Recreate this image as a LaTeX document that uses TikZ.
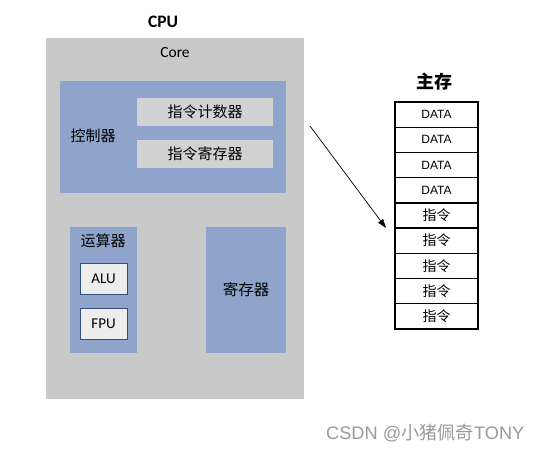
\documentclass[tikz,border=0pt]{standalone}
\usepackage{fontspec}
\setmainfont{Carlito}
\newfontfamily\cjk{Noto Sans CJK SC}
\newfontfamily\arial{Liberation Sans}
\usetikzlibrary{arrows.meta,calc}
\definecolor{cpugray}{HTML}{C9C9C9}
\definecolor{blk}{HTML}{8EA4CA}
\definecolor{bargray}{HTML}{D2D2D2}
\definecolor{unitfill}{HTML}{EDEDED}
\definecolor{unitdraw}{HTML}{2F4F7F}
\definecolor{wm}{HTML}{9A9A9A}
\tikzset{
  box/.style={draw=none,inner sep=0pt,outer sep=0pt,anchor=north west},
  bar/.style={box,fill=bargray,minimum width=136pt,minimum height=28pt,font=\fontsize{15}{15}\selectfont\cjk},
  unit/.style={box,fill=unitfill,draw=unitdraw,line width=0.8pt,minimum width=47pt,minimum height=31pt,font=\fontsize{15}{15}\selectfont},
  cell/.style={draw=black,line width=1.4pt,inner sep=0pt,outer sep=0pt,anchor=north west,minimum width=83pt,minimum height=25.2pt},
  lbl/.style={inner sep=0pt},
}
\begin{document}
\begin{tikzpicture}[x=1pt,y=-1pt]
\useasboundingbox[fill=white] (0,0) rectangle (541,452);
% CPU
\node[lbl,font=\fontsize{17.5}{17.5}\selectfont\bfseries] (cpulabel) at (163,22) {CPU};
\node[box,fill=cpugray,minimum width=258pt,minimum height=361pt] (cpu) at (46,38) {};
\node[lbl,font=\fontsize{15.5}{15.5}\selectfont] (core) at (175,53) {Core};
% controller
\node[box,fill=blk,minimum width=226pt,minimum height=112pt] (ctrl) at (60,81) {};
\node[lbl,font=\fontsize{15}{15}\selectfont\cjk] (ctrllabel) at (93,136) {控制器};
\node[bar] (pc) at (137,98) {指令计数器};
\node[bar] (ir) at (137,140) {指令寄存器};
% ALU block
\node[box,fill=blk,minimum width=67pt,minimum height=126pt] (alublk) at (70,227) {};
\node[lbl,font=\fontsize{15}{15}\selectfont\cjk] (alulabel) at (103,241) {运算器};
\node[unit] (alu) at (80,263) {ALU};
\node[unit] (fpu) at (80,308) {FPU};
% registers
\node[box,fill=blk,minimum width=80pt,minimum height=126pt] (reg) at (206,227) {};
\node[lbl,font=\fontsize{15.5}{15.5}\selectfont\cjk] (reglabel) at (246,290) {寄存器};
% memory
\node[lbl,font=\fontsize{18}{18}\selectfont\cjk\bfseries] (memlabel) at (434,82) {主存};
\foreach \i/\t in {0/DATA,1/DATA,2/DATA,3/DATA}{
  \node[cell,font=\fontsize{12}{12}\selectfont\arial] (m\i) at (395,{102+25.2*\i}) {\t};
}
\foreach \i in {4,...,8}{
  \node[cell,font=\fontsize{14}{14}\selectfont\cjk] (m\i) at (395,{102+25.2*\i}) {指令};
}
% arrow
\coordinate (astart) at (310,126);
\coordinate (aend) at ($(m4.south west)+(-9,0)$);
\draw[line width=0.7pt,-{Triangle[length=9pt,width=6pt]}] (astart) -- (aend);
% watermark
\node[lbl,anchor=west,text=wm,font=\fontsize{18.2}{18.2}\selectfont\arial] (wmark) at (326,433) {CSDN @{\cjk 小猪佩奇}TONY};
\end{tikzpicture}
\end{document}
